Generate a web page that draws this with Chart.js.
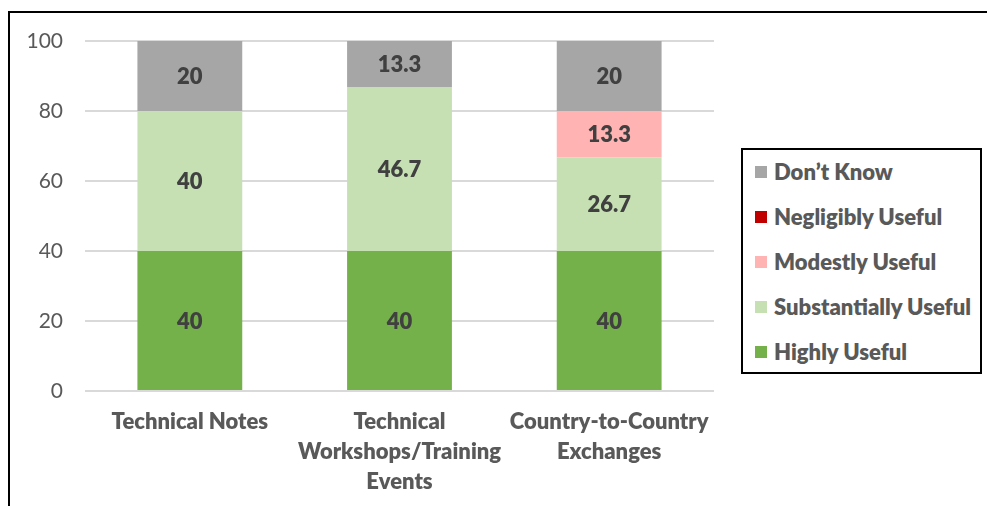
<!DOCTYPE html>
<html>
<head>
<meta charset="utf-8">
<script src="https://cdn.jsdelivr.net/npm/chart.js@4/dist/chart.umd.min.js"></script>
<style>
    body { margin: 0; background: #fff; overflow: hidden; font-family: Lato, sans-serif; }
    #moldura { position: absolute; left: 8px; top: 11px; width: 1100px; height: 700px; border: 2px solid #000; }
    #grafico { position: absolute; left: 0; top: 0; }
    #legenda { position: absolute; left: 741px; top: 148px; width: 241px; height: 226px; border: 2px solid #000; background: #fff; box-sizing: border-box; }
    .item-legenda { position: absolute; left: 12px; display: flex; align-items: center; font-weight: 800; font-size: 22px; color: #595959; white-space: nowrap; }
    .quadrado { width: 12px; height: 12px; margin-right: 7px; }
</style>
</head>
<body>
<div id="moldura"></div>
<canvas id="grafico" width="987" height="506"></canvas>
<div id="legenda"></div>
<script>
const categorias = [
    ["Technical Notes"],
    ["Technical", "Workshops/Training", "Events"],
    ["Country-to-Country", "Exchanges"]
];

const altamenteUtil = [40, 40, 40];
const substancialmenteUtil = [40, 46.7, 26.7];
const modestamenteUtil = [0, 0, 13.3];
const poucoUtil = [0, 0, 0];
const naoSabe = [20, 13.3, 20];

const ticksY = [0, 20, 40, 60, 80, 100];

const series = [
    { label: "Highly Useful", data: altamenteUtil, cor: "#74B14A" },
    { label: "Substantially Useful", data: substancialmenteUtil, cor: "#C6E0B4" },
    { label: "Modestly Useful", data: modestamenteUtil, cor: "#FFB3B3" },
    { label: "Negligibly Useful", data: poucoUtil, cor: "#C00000" },
    { label: "Don\u2019t Know", data: naoSabe, cor: "#A6A6A6" }
];

// rótulos no meio de cada segmento
const rotulosBarras = {
    id: "rotulosBarras",
    afterDatasetsDraw(chart) {
        const ctx = chart.ctx;
        ctx.save();
        ctx.font = "800 22px Lato";
        ctx.fillStyle = "#404040";
        ctx.textAlign = "center";
        ctx.textBaseline = "middle";
        chart.data.datasets.forEach((ds, i) => {
            chart.getDatasetMeta(i).data.forEach((bar, j) => {
                const v = ds.data[j];
                if (!v) return;
                const meio = (bar.y + bar.base) / 2;
                ctx.fillText(String(v), bar.x, meio + 1);
            });
        });
        ctx.restore();
    }
};

new Chart(document.getElementById("grafico"), {
    type: "bar",
    data: {
        labels: categorias,
        datasets: series.map(s => ({
            label: s.label,
            data: s.data,
            backgroundColor: s.cor,
            borderWidth: 0,
            categoryPercentage: 1,
            barPercentage: 0.5
        }))
    },
    options: {
        responsive: false,
        animation: false,
        layout: { padding: { top: 41, right: 273, left: 0, bottom: 0 } },
        plugins: {
            legend: { display: false },
            tooltip: { enabled: false }
        },
        scales: {
            x: {
                stacked: true,
                grid: { display: false },
                border: { display: false },
                ticks: {
                    color: "#595959",
                    font: { family: "Lato", size: 22, weight: 800, lineHeight: 30 / 22 },
                    padding: 8,
                    maxRotation: 0
                },
                afterFit: scale => { scale.height = 115; }
            },
            y: {
                stacked: true,
                min: 0,
                max: 100,
                afterBuildTicks: scale => { scale.ticks = ticksY.map(v => ({ value: v })); },
                grid: { color: "#D9D9D9", lineWidth: 2, drawTicks: false },
                border: { display: false },
                ticks: {
                    color: "#595959",
                    font: { family: "Lato", size: 21 },
                    padding: 22
                },
                afterFit: scale => { scale.width = 85; }
            }
        }
    },
    plugins: [rotulosBarras]
});

// legenda em ordem inversa, como no original
const legenda = document.getElementById("legenda");
series.slice().reverse().forEach((s, i) => {
    const item = document.createElement("div");
    item.className = "item-legenda";
    item.style.top = (8 + i * 45) + "px";
    item.innerHTML = `<span class="quadrado" style="background:${s.cor}"></span><span>${s.label}</span>`;
    legenda.appendChild(item);
});
</script>
</body>
</html>
